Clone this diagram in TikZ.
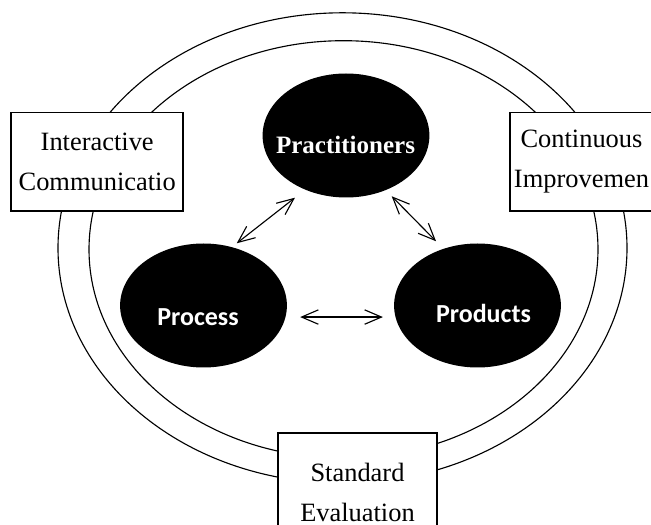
\documentclass[tikz,border=0pt]{standalone}
\usepackage{fontspec}
\setmainfont{Liberation Serif}
\newfontfamily\calibrifont{Carlito}
\newfontfamily\timesbold{Liberation Serif Bold}
\usetikzlibrary{shapes.geometric,arrows.meta}
\tikzset{
  ring/.style={draw=black, line width=0.8pt},
  txtbox/.style={draw=black, fill=white, line width=1pt, align=center, inner sep=0pt,
    font=\fontsize{18.8}{28.45}\selectfont},
  bubble/.style={ellipse, fill=black, minimum width=4.17cm, minimum height=3.1cm, inner sep=0pt},
  bubtext/.style={text=white, inner sep=0pt, font=\calibrifont\bfseries\fontsize{18.5}{22}\selectfont},
  practext/.style={text=white, inner sep=0pt, font=\timesbold\fontsize{17.8}{22}\selectfont},
  biarrow/.style={draw=black, line width=0.8pt,
    {Straight Barb[length=0.42cm,width=0.36cm]}-{Straight Barb[length=0.42cm,width=0.36cm]}}
}

\begin{document}
\begin{tikzpicture}
  \useasboundingbox (0,0) rectangle (16.275,13.1);
  \clip (0,0) rectangle (16.275,13.1);

  % two rings round the middle
  \draw[ring] (8.5625,6.9) ellipse [x radius=7.1125, y radius=5.88];
  \draw[ring] (8.5875,6.865) ellipse [x radius=6.3625, y radius=5.2175];

  % boxes sitting on the rings
  \node[txtbox, minimum width=4.3cm, minimum height=2.46cm] (comm) at (2.43,9.06) {Interactive\\Communicatio};
  \node[txtbox, minimum width=3.575cm, minimum height=2.46cm] (impr) at (14.5375,9.06) {Continuous\\Improvemen};
  \node[txtbox, minimum width=3.975cm, minimum height=2.99cm] (eval) at (8.9375,0.78) {Standard\\Evaluation};

  % black ellipses
  \node[bubble] (prac) at (8.65,9.7125) {};
  \node[bubble] (proc) at (5.0875,5.4625) {};
  \node[bubble] (prod) at (11.9375,5.4625) {};

  \node[practext] (pracT) at (8.6375,9.475) {Practitioners};
  \node[bubtext] (procT) at (4.95,5.175) {Process};
  \node[bubtext] (prodT) at (12.0875,5.275) {Products};

  % two-way arrows
  \draw[biarrow, shorten <=0.15cm, shorten >=0.32cm] (proc.64) -- (prac.233);
  \draw[biarrow, shorten <=0.21cm, shorten >=0.26cm] (prac.306) -- (prod.121);
  \draw[biarrow, shorten <=0.36cm, shorten >=0.31cm] (proc.352) -- (prod.188);
\end{tikzpicture}
\end{document}
